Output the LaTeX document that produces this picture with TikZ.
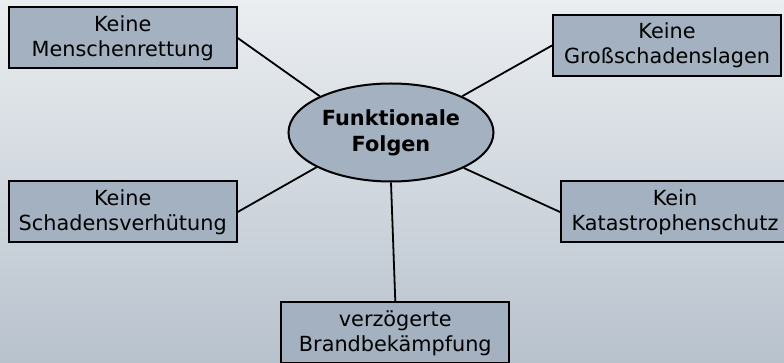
\documentclass[tikz,border=0pt]{standalone}
\usepackage{fontspec}
\setmainfont{DejaVu Sans}
\usetikzlibrary{shapes.geometric}
\definecolor{boxfill}{RGB}{163,177,192}
\definecolor{bgtop}{RGB}{235,238,241}
\definecolor{bgbot}{RGB}{184,194,205}

\begin{document}
\begin{tikzpicture}[x=0.5pt,y=-0.5pt,
  b/.style={draw,line width=1pt,fill=boxfill,align=center,font=\fontsize{10.4}{12.5}\selectfont,minimum width=114pt,minimum height=30.5pt,inner sep=0pt},
  m/.style={ellipse,draw,line width=1pt,fill=boxfill,align=center,font=\fontsize{10.4}{13}\selectfont\bfseries,minimum width=102.5pt,minimum height=49pt,inner sep=0pt}]
\shade[top color=bgtop,bottom color=bgbot] (0,0) rectangle (784,363);
\useasboundingbox (0,0) rectangle (784,363);
\node[m] (m) at (391,132.5) {Funktionale\\Folgen};
\node[b] (b1) at (122.7,38) {Keine\\Menschenrettung};
\node[b] (b2) at (667,45.5) {Keine\\Großschadenslagen};
\node[b] (b3) at (122.7,212) {Keine\\Schadensverhütung};
\node[b] (b4) at (675,212) {Kein\\Katastrophenschutz};
\node[b] (b5) at (395.3,333) {verzögerte\\Brandbekämpfung};
\draw[line width=0.9pt] (b1.east)--(m.153.4); \draw[line width=0.9pt] (b2.west)--(m.27.5);
\draw[line width=0.9pt] (b3.east)--(m.205.9); \draw[line width=0.9pt] (b4.west)--(m.334.4);
\draw[line width=0.9pt] (m.south)--(b5.north);
\end{tikzpicture}
\end{document}
